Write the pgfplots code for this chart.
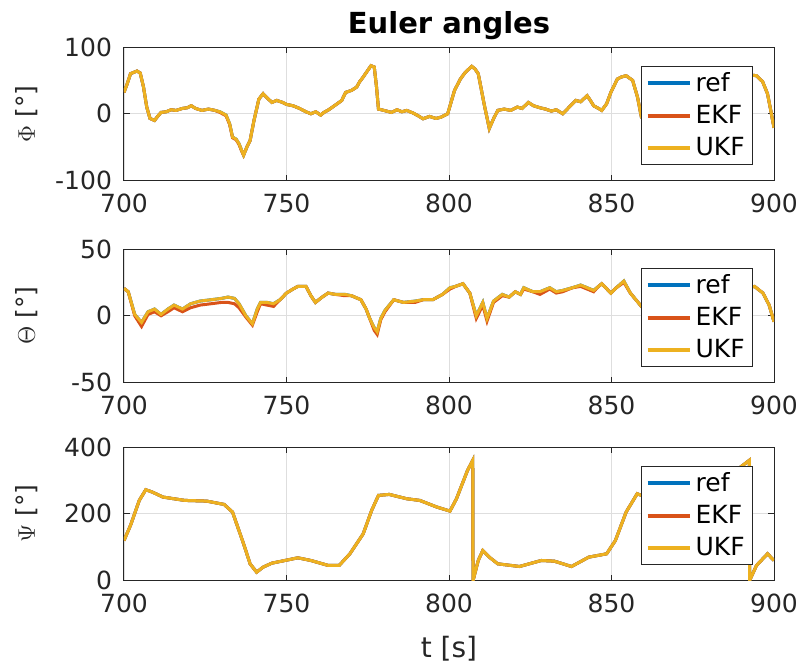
\documentclass[border=0pt]{standalone}
\usepackage{pgfplots}
\usepackage{pgfplotstable}
\usepackage{fontspec}
\setmainfont{DejaVu Sans}
\pgfplotsset{compat=1.18}
\definecolor{mref}{rgb}{0,0.447,0.741}
\definecolor{mekf}{rgb}{0.85,0.325,0.098}
\definecolor{mukf}{rgb}{0.929,0.694,0.125}
\definecolor{axisgray}{rgb}{0.15,0.15,0.15}

\pgfplotstableread{
t ref ekf ukf
700 32 32 32
701 45 45 45
702 60 60 60
703 62 62 62
704 64 64 64
705 61 61 61
706 40 40 40
707 10 10 10
708 -7 -7 -7
709.4 -10 -10 -10
710.5 -3 -3 -3
711.4 2 2 2
713 3 3 3
714.5 6 6 6
716 5 5 5
718 8 8 8
719.5 9 9 9
720.7 12 12 12
722 8 8 8
724 5 5 5
726 7 7 7
728 5 5 5
729.5 3 2 3
731.4 -2 -3 -2
732.5 -15 -16 -15
733.4 -35 -36 -35
734.5 -38 -39 -38
735.4 -45 -46 -45
736.2 -55 -56 -55
736.8 -62 -62 -62
737.8 -50 -50 -50
738.8 -40 -40 -40
740 -10 -10 -10
741.5 22 22 22
742.8 30 30 30
744 24 24 24
745.5 17 17 17
747 20 20 20
748.8 17 17 17
750 14 14 14
752 12 12 12
754 8 8 8
756 3 3 3
757.5 0 0 0
759 3 3 3
760.5 -2 -2 -2
761.5 2 2 2
763 6 6 6
765.6 15 15 15
767 20 20 20
768.2 32 32 32
770 35 35 35
771.6 40 40 40
772.5 48 48 48
773.6 55 55 55
775 65 65 65
776 72 72 72
777 70 70 70
777.7 40 40 40
778.3 7 7 7
780 5 5 5
782.3 2 2 2
784 6 6 6
785.5 3 3 3
787 5 5 5
789 1 1 1
790.5 -3 -3 -3
792 -7.5 -7.5 -7.5
794 -4 -4 -4
796 -7 -7 -7
797.6 -5 -5 -5
799.6 0 0 0
800.5 15 15 15
801.7 35 35 35
803.5 52 52 52
805 62 62 62
807 71 71 71
808 67 67 67
809 60 60 60
810 35 35 35
811 10 10 10
812.4 -22 -22 -22
813.7 -7.5 -7.5 -7.5
815 5 5 5
817 7 7 7
819 5 5 5
821 10 10 10
822.5 8 8 8
824.4 17 17 17
826 12 12 12
828 9 9 9
829.7 7 7 7
831.5 4 4 4
833 6 6 6
835 0 0 0
837 10 10 10
839 20 20 20
840.5 18 18 18
842.5 27 27 27
843.5 20 20 20
844.5 12 12 12
846 8 8 8
847 5 5 5
848.5 15 15 15
849.8 32 32 32
851.8 52 52 52
853 55 55 55
854.5 57 57 57
856.5 50 50 50
858 25 25 25
859.2 -5 -5 -5
861 -12 -12 -12
864 -2 -2 -2
868 8 8 8
873 12 12 12
878 10 10 10
883 18 18 18
887 30 30 30
890 48 48 48
893 58 58 58
894.6 57 57 57
896.5 48 48 48
898 30 30 30
899 5 5 5
900 -21 -21 -21
}\phidata

\pgfplotstableread{
t ref ekf ukf
700 20.5 20.5 20.5
701.3 18 18 18
703.3 1 0 1
705.4 -5 -8 -5
707.4 3 1 3
709.4 5 3 5
711.4 1 0 1
713.5 5 3 5
715.4 8 6 8
718 5 3 5
720.5 9 6 9
723.4 11 8 11
726.8 12 9 12
730 13 10 13
732 14 10 14
734 13 9 13
735.4 9 6 9
737.5 0 -1 0
739.5 -6 -7 -6
741 5 3 5
742 10 9 10
744 10 8 10
746 9 7 9
748 12 12 12
750 17 17 17
752 20 20 20
753.5 22 22 22
756 22 22 22
757.5 15 15 15
758.9 10 10 10
761 14 14 14
762.8 17 17 17
765 16 16 16
768 16 15 16
770 15 15 15
772.9 12 12 12
774.5 5 5 5
775.6 -2 -2 -2
777 -9 -11 -9
777.9 -12 -14 -12
779 -2 -3 -2
780.3 4 3 4
783 12 12 12
786 10 10 10
789.6 11 10 11
792 12 12 12
795 12 12 12
798 16 16 16
800.3 21 20 21
802 22 22 22
804.3 24 24 24
806.4 17 17 17
808.4 0 -2 0
810.4 10 8 10
811.7 -2 -4 -2
813.7 11 10 11
816.4 16 15 16
818.5 14 14 14
820.4 18 18 18
822 16 16 16
823 21 20 21
825.8 18 18 18
828 18 16 18
831 21 20 21
833 18 17 18
835 19 18 19
838 21 21 21
840.5 23 22 23
842.5 21 20 21
844.5 19 18 19
846 22 22 22
847 24 24 24
849.8 17 17 17
851.5 21 21 21
853.8 26 25 26
855.8 17 17 17
859.2 7 7 7
863 10 10 10
868 14 14 14
874 12 12 12
880 16 16 16
886 18 18 18
890 20 20 20
894 22 22 22
896.6 17 17 17
898.5 8 8 8
900 -4.5 -4.5 -4.5
}\thetadata

\pgfplotstableread{
t ref ekf ukf
700 120 120 120
702 165 165 165
704.7 240 240 240
706.7 272 272 272
708.7 265 265 265
712 250 250 250
718.7 240 240 240
725.4 238 238 238
730.8 228 228 228
733.4 205 205 205
735 160 160 160
736.8 110 110 110
738.8 50 50 50
740.8 25 25 25
742.8 40 40 40
745.5 52 52 52
749.5 60 60 60
753.5 68 68 68
757.5 60 60 60
762.9 45 45 45
766.2 45 45 45
769.5 80 80 80
773.6 140 140 140
776.2 210 210 210
778.3 255 255 255
781.6 258 258 258
787 245 245 245
791 240 240 240
796.3 220 220 220
800.3 208 208 208
802.3 245 245 245
805.7 330 330 330
807.3 360 360 360
807.4 0 0 0
809 60 60 60
810.4 90 90 90
812.4 70 70 70
815 50 50 50
821.7 42 42 42
828.4 60 60 60
832.4 58 58 58
837.7 42 42 42
843 70 70 70
848.5 80 80 80
851.2 120 120 120
854.5 205 205 205
857.9 260 260 260
859.2 255 255 255
865 240 240 240
872 260 260 260
880 290 290 290
887 320 320 320
892.4 360 360 360
892.5 0 0 0
894.6 45 45 45
898 80 80 80
900 60 60 60
}\psidata

\pgfplotsset{
  eulerax/.style={
    scale only axis,
    width=325pt, height=66.75pt,
    xmin=700, xmax=900,
    xtick={700,750,800,850,900},
    grid=major,
    major grid style={line width=0.4pt, draw=black!13},
    axis line style={draw=axisgray, line width=0.5pt},
    tick style={draw=axisgray, line width=0.5pt},
    major tick length=3pt,
    tick align=inside,
    ticklabel style={font=\fontsize{12.5}{15}\selectfont, text=axisgray},
    /pgf/number format/assume math mode=true,
    /pgf/number format/1000 sep={},
    xticklabel style={yshift=-3pt},
    yticklabel style={xshift=-2.5pt},
    ylabel style={at={(axis description cs:-0.149,0.5)}, anchor=center, font=\fontsize{12.5}{15}\selectfont, text=axisgray},
    legend style={at={(axis description cs:0.968,0.858)}, anchor=north east,
      draw=axisgray, line width=0.5pt, fill=white,
      font=\fontsize{12.5}{15}\selectfont, text=black,
      inner xsep=2pt, inner ysep=1pt, row sep=1.5pt},
    legend cell align=left,
    legend image code/.code={\draw[#1, line width=2pt] (0pt,0pt) -- (21pt,0pt);},
    every axis plot/.append style={line width=1.5pt},
  }
}

\begin{document}
\begin{tikzpicture}
\begin{axis}[eulerax, at={(62pt,-23.5pt)}, anchor=north west,
  ymin=-100, ymax=100, ytick={-100,0,100},
  ylabel={$\Phi$ [°]},
  title={Euler angles},
  title style={at={(axis description cs:0.5,1)}, anchor=south, yshift=-6pt, font=\fontsize{14.5}{17}\selectfont\bfseries}]
\addplot[mref] table[x=t, y=ref] {\phidata};
\addplot[mekf] table[x=t, y=ekf] {\phidata};
\addplot[mukf] table[x=t, y=ukf] {\phidata};
\legend{ref,EKF,UKF}
\end{axis}
\begin{axis}[eulerax, at={(62pt,-124.5pt)}, anchor=north west,
  ymin=-50, ymax=50, ytick={-50,0,50},
  ylabel={$\Theta$ [°]}]
\addplot[mref] table[x=t, y=ref] {\thetadata};
\addplot[mekf] table[x=t, y=ekf] {\thetadata};
\addplot[mukf] table[x=t, y=ukf] {\thetadata};
\legend{ref,EKF,UKF}
\end{axis}
\begin{axis}[eulerax, at={(62pt,-223.5pt)}, anchor=north west,
  ymin=0, ymax=400, ytick={0,200,400},
  ylabel={$\Psi$ [°]},
  xlabel={t [s]},
  xlabel style={at={(axis description cs:0.5,0)}, anchor=center, yshift=-34pt, font=\fontsize{14}{17}\selectfont, text=axisgray}]
\addplot[mref] table[x=t, y=ref] {\psidata};
\addplot[mekf] table[x=t, y=ekf] {\psidata};
\addplot[mukf] table[x=t, y=ukf] {\psidata};
\legend{ref,EKF,UKF}
\end{axis}
\pgfresetboundingbox
\useasboundingbox (0,0) rectangle (401.5pt,-333pt);
\end{tikzpicture}
\end{document}
